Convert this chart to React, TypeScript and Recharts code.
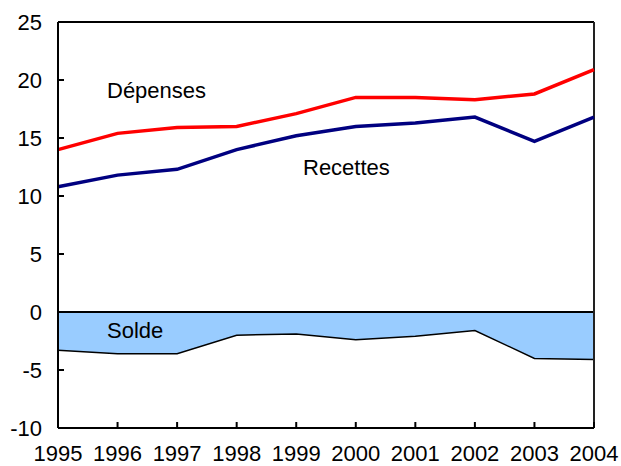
import { ComposedChart, Line, Area, XAxis, YAxis, ReferenceLine } from 'recharts';

const years = ['1995', '1996', '1997', '1998', '1999', '2000', '2001', '2002', '2003', '2004'];
const depenses = [14.0, 15.4, 15.9, 16.0, 17.1, 18.5, 18.5, 18.3, 18.8, 20.9];
const recettes = [10.8, 11.8, 12.3, 14.0, 15.2, 16.0, 16.3, 16.8, 14.7, 16.8];
const solde = [-3.3, -3.6, -3.6, -2.0, -1.9, -2.4, -2.1, -1.6, -4.0, -4.1];
const yTicks = [-10, -5, 0, 5, 10, 15, 20, 25];

const data = years.map((year, i) => ({
  year,
  depenses: depenses[i],
  recettes: recettes[i],
  solde: solde[i],
}));

const font = '"Liberation Sans", Arial, Helvetica, sans-serif';
const tickStyle = { fontSize: 22, fill: '#000', fontFamily: font };

const labelStyle = {
  position: 'absolute' as const,
  fontFamily: font,
  fontSize: 22,
  color: '#000',
  lineHeight: 'normal',
  whiteSpace: 'nowrap' as const,
};

export default function App() {
  return (
    <div style={{ position: 'absolute', left: 0, top: 0, width: 621, height: 466, background: '#fff' }}>
      <ComposedChart
        width={621}
        height={466}
        data={data}
        margin={{ top: 22, right: 27, bottom: 0, left: 0 }}
      >
        <XAxis
          dataKey="year"
          scale="point"
          padding={{ left: 0, right: 0 }}
          interval={0}
          height={38}
          tick={tickStyle}
          tickSize={-6}
          tickMargin={23}
          tickLine={{ stroke: '#000', strokeWidth: 2 }}
          axisLine={{ stroke: '#000', strokeWidth: 2 }}
        />
        <YAxis
          domain={[-10, 25]}
          ticks={yTicks}
          interval={0}
          width={58}
          tick={tickStyle}
          tickSize={-6}
          tickMargin={22}
          tickLine={{ stroke: '#000', strokeWidth: 2 }}
          axisLine={{ stroke: '#000', strokeWidth: 2 }}
        />
        <Area
          type="linear"
          dataKey="solde"
          baseValue={0}
          fill="#99ccff"
          fillOpacity={1}
          stroke="#000"
          strokeWidth={1.5}
          dot={false}
          activeDot={false}
          isAnimationActive={false}
        />
        <ReferenceLine y={0} stroke="#000" strokeWidth={2} />
        <ReferenceLine y={25} stroke="#000" strokeWidth={2} />
        <ReferenceLine x="2004" stroke="#222" strokeWidth={2} />
        <Line
          type="linear"
          dataKey="depenses"
          stroke="#ff0000"
          strokeWidth={3.5}
          dot={false}
          activeDot={false}
          isAnimationActive={false}
        />
        <Line
          type="linear"
          dataKey="recettes"
          stroke="#000080"
          strokeWidth={3.5}
          dot={false}
          activeDot={false}
          isAnimationActive={false}
        />
      </ComposedChart>
      <div style={{ ...labelStyle, left: 107, top: 78 }}>Dépenses</div>
      <div style={{ ...labelStyle, left: 303, top: 155 }}>Recettes</div>
      <div style={{ ...labelStyle, left: 107, top: 318 }}>Solde</div>
    </div>
  );
}
